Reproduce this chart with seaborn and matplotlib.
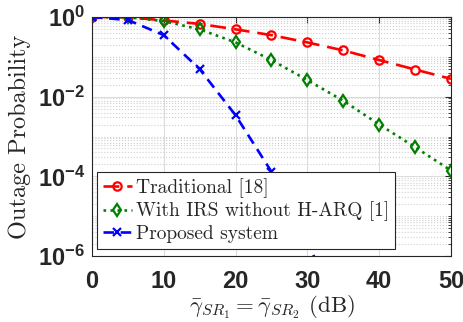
import numpy as np
import pandas as pd
import seaborn as sns
import matplotlib
matplotlib.use('Agg')
import matplotlib.pyplot as plt
from matplotlib.ticker import FixedLocator, FixedFormatter

# data
snr_db = [0, 5, 10, 15, 20, 25, 30, 35, 40, 45, 50]
p_traditional = [1.0, 0.99, 0.82, 0.67, 0.49, 0.35, 0.23, 0.145, 0.083, 0.048, 0.028]
p_irs = [1.0, 0.99, 0.79, 0.49, 0.23, 0.083, 0.026, 0.0079, 0.002, 5.4e-4, 1.4e-4]
p_proposed = [1.0, 0.84, 0.35, 0.049, 0.0034, 1.3e-4, 2.7e-6, 1e-8, 1e-10, 1e-12, 1e-14]

labels = ['Traditional [18]', 'With IRS without H-ARQ [1]', 'Proposed system']
colors = ['#ff0000', '#008000', '#0000ff']
markers = ['o', 'd', 'x']
linestyles = [(0, (6, 3)), ':', (0, (4, 2.5))]

sns.set_style('white')
plt.rcParams['mathtext.fontset'] = 'custom'
plt.rcParams['mathtext.rm'] = 'Liberation Sans'
plt.rcParams['mathtext.bf'] = 'Liberation Sans:bold'

df = pd.DataFrame({
    'snr': snr_db * 3,
    'p': p_traditional + p_irs + p_proposed,
    'scheme': [labels[0]] * 11 + [labels[1]] * 11 + [labels[2]] * 11,
})

fig = plt.figure(figsize=(4.64, 3.22), dpi=100)
ax = fig.add_axes([92 / 464, 1 - 256 / 322, (451 - 92) / 464, (256 - 17) / 322])

for i, lab in enumerate(labels):
    sub = df[df['scheme'] == lab]
    sns.lineplot(data=sub, x='snr', y='p', ax=ax, color=colors[i], label=lab,
                 marker=markers[i], markersize=6, markerfacecolor='none',
                 markeredgecolor=colors[i], markeredgewidth=1.6,
                 linewidth=1.9, linestyle=linestyles[i], clip_on=True)

ax.set_yscale('log')
ax.set_xlim(0, 50)
ax.set_ylim(1e-6, 1.0)

ax.yaxis.set_major_locator(FixedLocator([1e-6, 1e-4, 1e-2, 1]))
ax.yaxis.set_major_formatter(FixedFormatter([r'$\mathbf{10^{-6}}$', r'$\mathbf{10^{-4}}$',
                                             r'$\mathbf{10^{-2}}$', r'$\mathbf{10^{0}}$']))
minor = []
for k in range(-6, 0):
    for m in range(2, 10):
        minor.append(m * 10.0 ** k)
minor += [1e-5, 1e-3, 1e-1]
ax.yaxis.set_minor_locator(FixedLocator(minor))
ax.yaxis.set_minor_formatter(FixedFormatter([''] * len(minor)))
ax.set_xticks([0, 10, 20, 30, 40, 50])

ax.grid(True, which='major', color='#dcdcdc', linewidth=0.8)
ax.grid(True, which='minor', axis='y', color='#d0d0d0', linestyle=':', linewidth=0.8)
ax.set_axisbelow(True)

for s in ax.spines.values():
    s.set_visible(True)
    s.set_color('#262626')
    s.set_linewidth(0.8)

ax.tick_params(which='both', direction='in', top=True, right=True, colors='#262626')
ax.tick_params(axis='x', which='major', length=4, pad=10)
ax.tick_params(axis='y', which='major', length=4, pad=5)
ax.tick_params(which='minor', length=2)
for t in ax.get_xticklabels():
    t.set_fontfamily('Liberation Sans')
    t.set_fontweight('bold')
    t.set_fontsize(17)
    t.set_color('#262626')
for t in ax.get_yticklabels():
    t.set_fontsize(17)
    t.set_color('#262626')

ax.set_ylabel('Outage Probability', fontfamily='cmr10', fontsize=17.5, color='#262626', labelpad=5)
ax.set_xlabel(r'$\bar{\gamma}_{SR_1} = \bar{\gamma}_{SR_2}$ (dB)', fontfamily='cmr10',
              math_fontfamily='cm', fontsize=16.5, color='#262626', labelpad=0)

leg = ax.legend(loc='lower left', bbox_to_anchor=(5 / 359, 7 / 239),
                prop={'family': 'cmr10', 'size': 14}, frameon=True,
                fancybox=False, edgecolor='#262626', framealpha=1, handlelength=1.5,
                handletextpad=0.2, borderaxespad=0, borderpad=0.3, labelspacing=0.2)
leg.get_frame().set_linewidth(0.8)

fig.savefig('out.png', dpi=100)
